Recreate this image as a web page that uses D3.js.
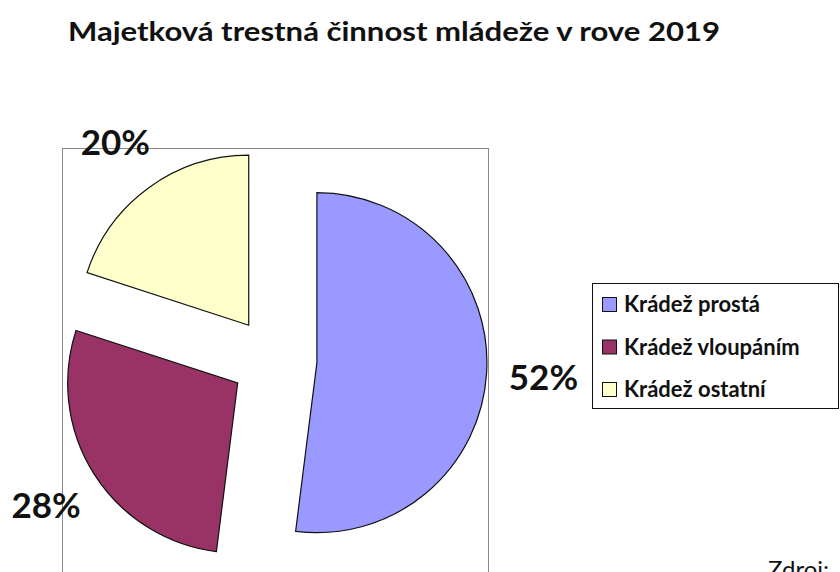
<!DOCTYPE html>
<html lang="sk">
<head>
    <meta charset="UTF-8">
    <title>Majetková trestná činnosť mládeže v roku 2019</title>
    <script src="https://d3js.org/d3.v7.min.js"></script>
    <style>
        body {
            margin: 0;
            background: #fff;
        }
        svg text {
            font-family: Lato, "Open Sans", sans-serif;
            fill: #111;
        }
        .title, .label, .legend text {
            font-weight: bold;
        }
    </style>
</head>
<body>
    <svg width="840" height="572"></svg>

    <script>
        // Data
        const categories = ["Krádež prostá", "Krádež vloupáním", "Krádež ostatní"];
        const shares = [52, 28, 20];
        const colours = ["#9999ff", "#993366", "#ffffcc"];

        const svg = d3.select("svg");

        svg.append("text")
            .attr("class", "title")
            .attr("x", 68)
            .attr("y", 41)
            .attr("font-size", 26)
            .attr("textLength", 652)
            .attr("lengthAdjust", "spacingAndGlyphs")
            .text("Majetková trestná činnost mládeže v rove 2019");

        // plot area frame (runs off the bottom of the picture)
        svg.append("rect")
            .attr("x", 62.5)
            .attr("y", 148.5)
            .attr("width", 426)
            .attr("height", 500)
            .attr("fill", "none")
            .attr("stroke", "#8a8a8a");

        const cx = 274, cy = 360, radius = 170, explode = 43;

        const pie = d3.pie().sort(null).value(d => d);
        const arc = d3.arc().innerRadius(0).outerRadius(radius);
        const labelArc = d3.arc().innerRadius(270).outerRadius(270);

        const slices = pie(shares);
        const g = svg.append("g").attr("transform", `translate(${cx},${cy})`);

        function offset(d) {
            const a = (d.startAngle + d.endAngle) / 2;
            return [Math.sin(a) * explode, -Math.cos(a) * explode];
        }

        g.selectAll(".slice")
            .data(slices)
            .enter()
            .append("path")
            .attr("class", "slice")
            .attr("transform", d => `translate(${offset(d)})`)
            .attr("d", arc)
            .attr("fill", (d, i) => colours[i])
            .attr("stroke", "#111")
            .attr("stroke-width", 1.2);

        g.selectAll(".label")
            .data(slices)
            .enter()
            .append("text")
            .attr("class", "label")
            .attr("x", d => labelArc.centroid(d)[0])
            .attr("y", d => labelArc.centroid(d)[1] + 13)
            .attr("text-anchor", "middle")
            .attr("font-size", 35)
            .text(d => d.data + "%");

        // legend
        const legend = svg.append("g").attr("class", "legend");
        legend.append("rect")
            .attr("x", 592.5)
            .attr("y", 283.5)
            .attr("width", 246)
            .attr("height", 125)
            .attr("fill", "#fff")
            .attr("stroke", "#111");

        const rowY = d3.scalePoint().domain(categories).range([297, 382]);

        const item = legend.selectAll(".item")
            .data(categories)
            .enter()
            .append("g")
            .attr("class", "item")
            .attr("transform", d => `translate(0,${rowY(d)})`);

        item.append("rect")
            .attr("x", 602.5)
            .attr("y", 0.5)
            .attr("width", 14)
            .attr("height", 14)
            .attr("fill", (d, i) => colours[i])
            .attr("stroke", "#111");

        item.append("text")
            .attr("x", 624)
            .attr("y", 15)
            .attr("font-size", 22)
            .text(d => d);

        svg.append("text")
            .attr("x", 768)
            .attr("y", 578)
            .attr("font-size", 24)
            .text("Zdroj:");
    </script>
</body>
</html>
